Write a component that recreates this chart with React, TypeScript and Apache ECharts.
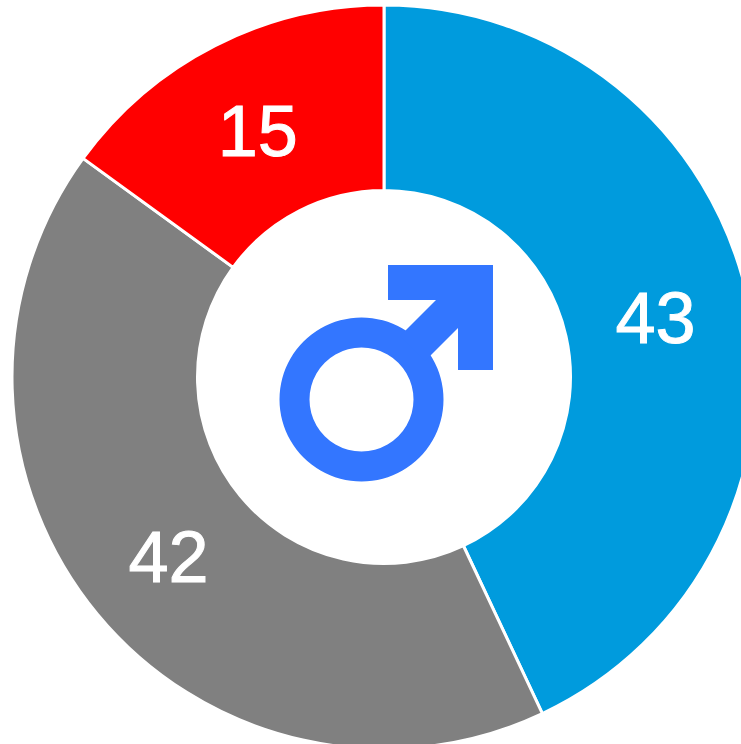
import React, { useEffect, useRef } from "react";
import * as echarts from "echarts";

const categories = ["Blue", "Gray", "Red"];
const values = [43, 42, 15];
const colors = ["#009bdd", "#808080", "#ff0000"];
const labelOffsets = [
  [-4, 3],
  [2, 0],
  [2, 5],
];
const iconColor = "#3376ff";

export default function App() {
  const ref = useRef<HTMLDivElement>(null);
  useEffect(() => {
    document.body.style.margin = "0";
    document.body.style.background = "#fff";
    const chart = echarts.init(ref.current!, null, { renderer: "svg" });
    chart.setOption({
      animation: false,
      backgroundColor: "#ffffff",
      series: [
        {
          type: "pie",
          center: [384, 377],
          radius: [186.5, 372],
          startAngle: 90,
          clockwise: true,
          silent: true,
          itemStyle: { borderColor: "#ffffff", borderWidth: 3 },
          label: {
            show: true,
            position: "inside",
            formatter: "{c}",
            color: "#ffffff",
            fontFamily: "Liberation Sans",
            fontSize: 72,
            textBorderColor: "#ffffff",
            textBorderWidth: 1,
          },
          labelLine: { show: false },
          data: categories.map((name, i) => ({
            name,
            value: values[i],
            itemStyle: { color: colors[i] },
            label: { offset: labelOffsets[i] },
          })),
        },
      ],
      graphic: [
        {
          type: "ring",
          shape: { cx: 361.5, cy: 399.5, r: 82, r0: 52 },
          style: { fill: iconColor },
        },
        {
          type: "polygon",
          shape: {
            points: [
              [388, 265],
              [493, 265],
              [493, 370],
              [458, 370],
              [458, 328],
              [425, 361],
              [400, 336],
              [436, 300],
              [388, 300],
            ],
          },
          style: { fill: iconColor },
        },
      ],
    });
    return () => chart.dispose();
  }, []);
  return <div ref={ref} style={{ width: 741, height: 744, overflow: "hidden" }} />;
}
